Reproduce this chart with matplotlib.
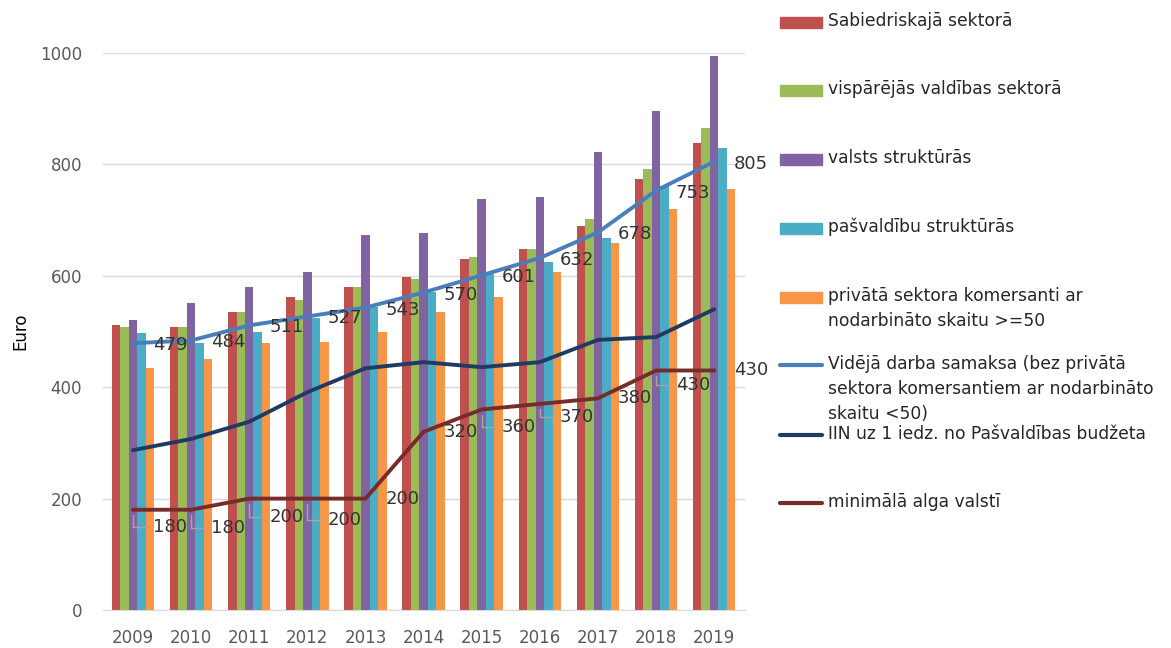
import matplotlib.pyplot as plt
import numpy as np
from matplotlib.patches import Rectangle
from matplotlib.lines import Line2D

years = ['2009', '2010', '2011', '2012', '2013', '2014', '2015', '2016', '2017', '2018', '2019']

# bars
sabiedriskaja = [512, 508, 535, 562, 580, 598, 630, 648, 690, 774, 838]
visparejas = [508, 508, 535, 556, 580, 594, 634, 648, 702, 792, 865]
valsts = [521, 551, 580, 607, 673, 676, 738, 741, 822, 896, 995]
pasvaldibu = [497, 479, 499, 524, 544, 571, 604, 624, 668, 761, 829]
privata = [434, 450, 479, 481, 499, 535, 562, 607, 659, 720, 756]

# lines
videja = [479, 484, 511, 527, 543, 570, 601, 632, 678, 753, 805]
iin = [287, 307, 338, 391, 434, 445, 436, 445, 485, 490, 540]
min_alga = [180, 180, 200, 200, 200, 320, 360, 370, 380, 430, 430]

bar_series = [
    (sabiedriskaja, 'Sabiedriskajā sektorā', '#C0504D'),
    (visparejas, 'vispārējās valdības sektorā', '#9BBB59'),
    (valsts, 'valsts struktūrās', '#8064A2'),
    (pasvaldibu, 'pašvaldību struktūrās', '#4BACC6'),
    (privata, 'privātā sektora komersanti ar\nnodarbināto skaitu >=50', '#F79646'),
]
line_series = [
    (videja, 'Vidējā darba samaksa (bez privātā\nsektora komersantiem ar nodarbināto\nskaitu <50)', '#4A7EBB'),
    (iin, 'IIN uz 1 iedz. no Pašvaldības budžeta', '#1F3B63'),
    (min_alga, 'minimālā alga valstī', '#772C2A'),
]

fig = plt.figure(figsize=(11.71, 6.48), dpi=100)
ax = fig.add_axes([103 / 1171, 38 / 648, 642 / 1171, 557 / 648])

x = np.arange(len(years))
w = 0.146
for i, (vals, lab, col) in enumerate(bar_series):
    ax.bar(x + (i - 2) * w, vals, width=w, color=col, zorder=2)

for vals, lab, col in line_series:
    ax.plot(x, vals, color=col, lw=2.8, zorder=3, solid_capstyle='round')

lab_style = dict(fontsize=13, color='#333333', va='center', ha='center',
                 textcoords='offset pixels', zorder=5)
for xi, v in zip(x, videja):
    ax.annotate(str(v), (xi, v), xytext=(37, -2), **lab_style)

# label drop (pixels) for minimal wage labels, 0 = no leader line
min_drop = [17, 18, 18, 21, 0, 0, 18, 13, 0, 15, 0]
for xi, v, d in zip(x, min_alga, min_drop):
    if d:
        ax.annotate(str(v), (xi, v), xytext=(37, -d),
                    arrowprops=dict(arrowstyle='-', color='#A6A6A6', lw=1,
                                    connectionstyle='angle,angleA=0,angleB=90,rad=0',
                                    shrinkA=2, shrinkB=4),
                    **lab_style)
    else:
        ax.annotate(str(v), (xi, v), xytext=(37, 0), **lab_style)

ax.set_xlim(-0.516, 10.53)
ax.set_ylim(0, 1000)
ax.set_yticks(range(0, 1001, 200))
ax.set_xticks(x)
ax.set_xticklabels(years)
ax.grid(axis='y', color='#D9D9D9', lw=1, zorder=0)
ax.tick_params(length=0, labelsize=12, labelcolor='#595959', pad=14)
ax.tick_params(axis='y', pad=15)
for s in ['top', 'right', 'left']:
    ax.spines[s].set_visible(False)
ax.spines['bottom'].set_color('#D9D9D9')
ax.set_ylabel('Euro', fontsize=12, labelpad=8)

# legend drawn by hand to keep the fixed Excel-like spacing
lax = fig.add_axes([0, 0, 1, 1])
lax.set_xlim(0, 1171)
lax.set_ylim(648, 0)
lax.axis('off')
entry_y = [22, 90, 159, 228, 297, 365, 435, 503]
k = 0
for vals, lab, col in bar_series:
    y0 = entry_y[k]
    lax.add_patch(Rectangle((780, y0 - 5), 42, 11, color=col))
    lax.text(828, y0 - 10, lab, fontsize=12.3, color='#262626', va='top',
             linespacing=1.5)
    k += 1
for vals, lab, col in line_series:
    y0 = entry_y[k]
    lax.add_line(Line2D([780, 822], [y0, y0], color=col, lw=3, solid_capstyle='round'))
    lax.text(828, y0 - 10, lab, fontsize=12.3, color='#262626', va='top',
             linespacing=1.5)
    k += 1

fig.savefig('out.png', dpi=100)
